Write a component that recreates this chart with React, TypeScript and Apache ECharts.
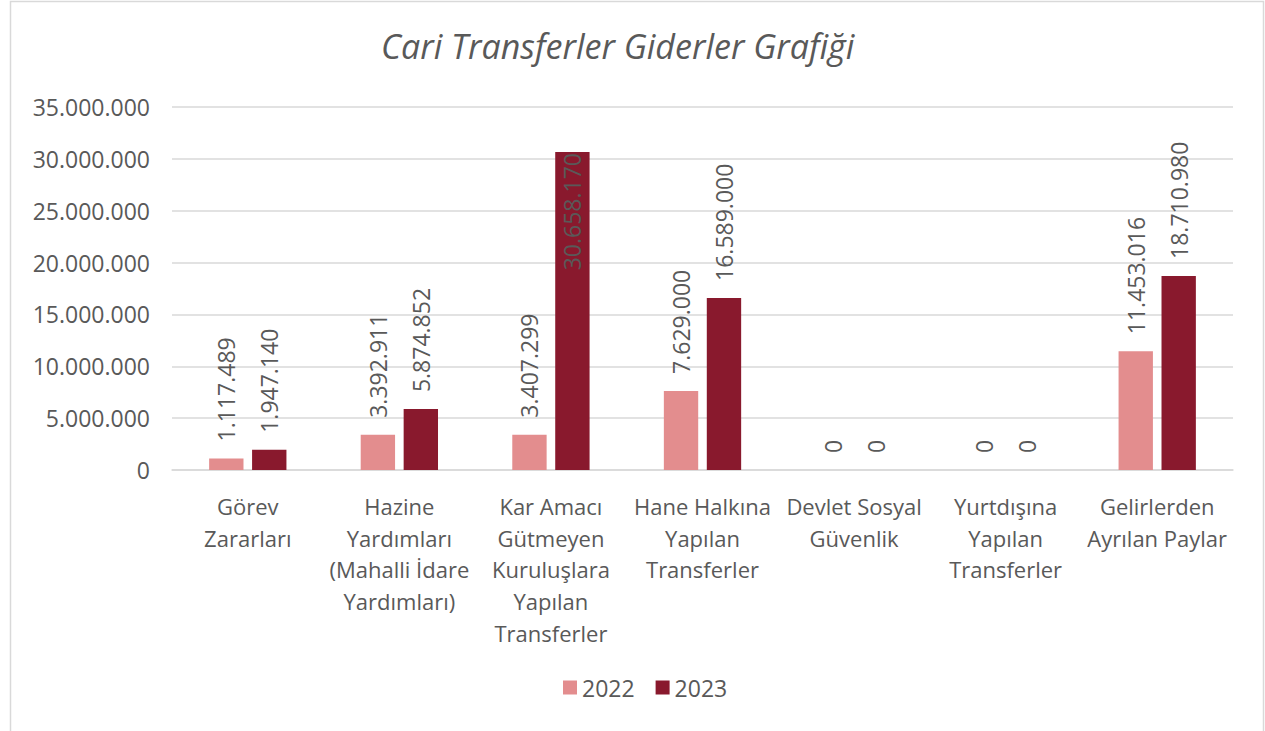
import React, { useEffect, useRef } from "react";
import * as echarts from "echarts";

const categories = [
  "Görev\nZararları",
  "Hazine\nYardımları\n(Mahalli İdare\nYardımları)",
  "Kar Amacı\nGütmeyen\nKuruluşlara\nYapılan\nTransferler",
  "Hane Halkına\nYapılan\nTransferler",
  "Devlet Sosyal\nGüvenlik",
  "Yurtdışına\nYapılan\nTransferler",
  "Gelirlerden\nAyrılan Paylar",
];
const values2022 = [1117489, 3392911, 3407299, 7629000, 0, 0, 11453016];
const values2023 = [1947140, 5874852, 30658170, 16589000, 0, 0, 18710980];
const seriesNames = ["2022", "2023"];
const yMin = 0;
const yMax = 35000000;
const yInterval = 5000000;

const FONT = "'Open Sans', 'Noto Sans', sans-serif";
const TEXT = "#595959";

const fmt = (v: number) => String(Math.round(v)).replace(/\B(?=(\d{3})+(?!\d))/g, ".");

export default function App() {
  const ref = useRef<HTMLDivElement>(null);
  useEffect(() => {
    document.body.style.margin = "0";
    const chart = echarts.init(ref.current!, null, { renderer: "svg" });
    const labelBase = {
      show: true,
      position: "top" as const,
      rotate: 90,
      align: "left" as const,
      verticalAlign: "middle" as const,
      distance: 17,
      color: TEXT,
      fontSize: 23,
      fontFamily: FONT,
      formatter: (p: any) => fmt(p.value),
    };
    const mkData = (arr: number[]) =>
      arr.map((v) =>
        v > yMax * 0.8
          ? {
              value: v,
              label: { position: "insideTop", align: "right", distance: 1 },
            }
          : v
      );
    chart.setOption({
      animation: false,
      backgroundColor: "#ffffff",
      textStyle: { fontFamily: FONT },
      title: {
        text: "Cari Transferler Giderler Grafiği",
        left: 376,
        top: 24,
        textStyle: {
          fontFamily: FONT,
          fontStyle: "italic",
          fontWeight: "normal",
          fontSize: 34,
          color: TEXT,
        },
      },
      graphic: [
        {
          type: "rect",
          shape: { x: 10.5, y: 1.5, width: 1253, height: 760 },
          style: { fill: "none", stroke: "#d9d9d9", lineWidth: 1.5 },
          silent: true,
        },
      ],
      legend: {
        bottom: 27,
        left: 558,
        itemWidth: 14,
        itemHeight: 14,
        itemGap: 21,
        icon: "rect",
        textStyle: { fontFamily: FONT, fontSize: 23, color: TEXT },
        data: seriesNames,
      },
      grid: { left: 172, right: 32, top: 107, bottom: 261, containLabel: false },
      xAxis: {
        type: "category",
        data: categories,
        axisLine: { lineStyle: { color: "#d9d9d9", width: 1.5 } },
        axisTick: { show: false },
        axisLabel: {
          interval: 0,
          margin: 20,
          fontSize: 22,
          lineHeight: 31.7,
          color: TEXT,
          fontFamily: FONT,
          verticalAlign: "top",
        },
      },
      yAxis: {
        type: "value",
        min: yMin,
        max: yMax,
        interval: yInterval,
        axisLine: { show: false },
        axisTick: { show: false },
        splitLine: { lineStyle: { color: "#d9d9d9", width: 1.5 } },
        axisLabel: {
          margin: 22,
          fontSize: 23,
          color: TEXT,
          fontFamily: FONT,
          formatter: (v: number) => fmt(v),
        },
      },
      series: [
        {
          name: seriesNames[0],
          type: "bar",
          data: mkData(values2022),
          itemStyle: { color: "#E38D8E" },
          barGap: "25%",
          barCategoryGap: "49%",
          label: labelBase,
        },
        {
          name: seriesNames[1],
          type: "bar",
          data: mkData(values2023),
          itemStyle: { color: "#89192D" },
          barGap: "25%",
          barCategoryGap: "49%",
          label: labelBase,
        },
      ],
    });
    return () => chart.dispose();
  }, []);
  return <div ref={ref} style={{ width: 1265, height: 731 }} />;
}
